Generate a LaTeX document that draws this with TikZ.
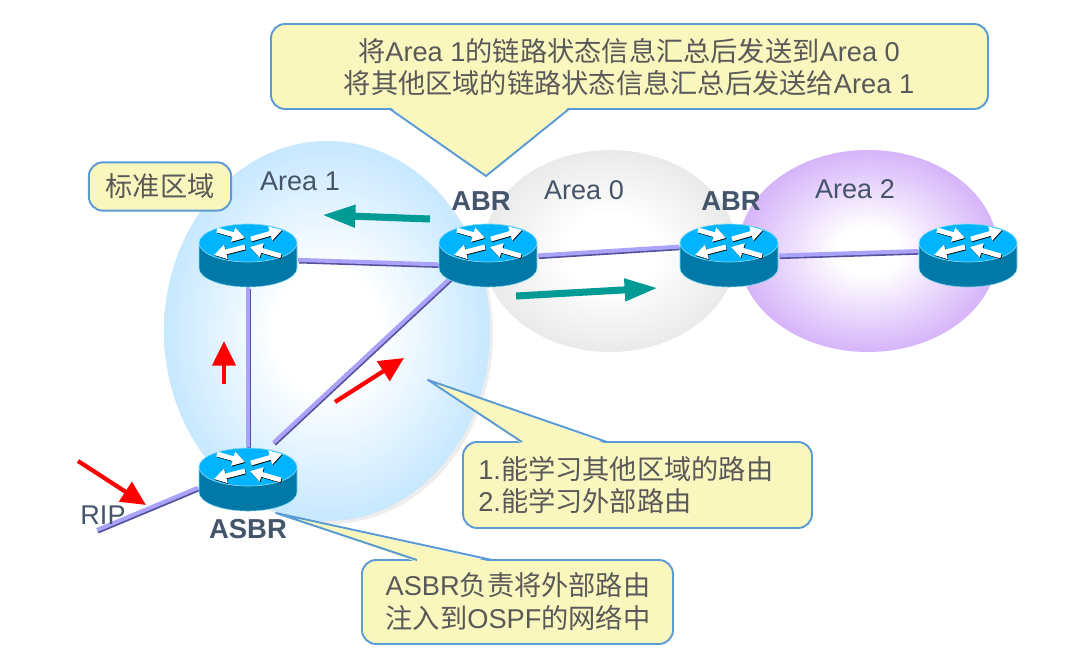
\documentclass[tikz,border=0pt]{standalone}
\usepackage{fontspec}
\usepackage{tikz}
\usetikzlibrary{arrows.meta}
\setmainfont{Liberation Sans}
\newfontfamily\cjkfont{Noto Sans CJK SC}
\newcommand{\zh}[1]{{\cjkfont #1}}
\definecolor{notefill}{HTML}{FAF7BE}
\definecolor{noteline}{HTML}{5B9BD5}
\definecolor{notetext}{HTML}{595959}
\definecolor{slatetext}{HTML}{44546A}
\definecolor{routertop}{HTML}{00B4FF}
\definecolor{routerside}{HTML}{0078A8}
\definecolor{routeredge}{HTML}{7FD8F0}
\definecolor{linklight}{HTML}{ABA3FA}
\definecolor{linkdark}{HTML}{55509A}
\definecolor{tealarrow}{HTML}{009B95}
\definecolor{area1edge}{HTML}{B3E0FF}
\definecolor{area0edge}{HTML}{DEDEDE}
\definecolor{area2edge}{HTML}{C99CF8}
\pgfdeclareradialshading{areaone}{\pgfpointorigin}{color(0bp)=(white); color(8bp)=(white); color(31bp)=(area1edge); color(50bp)=(area1edge)}
\pgfdeclareradialshading{areazero}{\pgfpointorigin}{color(0bp)=(white); color(9bp)=(white); color(34bp)=(area0edge); color(50bp)=(area0edge)}
\pgfdeclareradialshading{areatwo}{\pgfpointorigin}{color(0bp)=(white); color(6bp)=(white); color(31bp)=(area2edge); color(50bp)=(area2edge)}
\tikzset{
  notebox/.style={fill=notefill, draw=noteline, line width=1.1pt, rounded corners=8pt, line join=round},
  notelabel/.style={text=notetext, font=\fontsize{15.5}{18.7}\selectfont, inner sep=0pt},
  arealabel/.style={text=slatetext, font=\fontsize{15.4}{18}\selectfont, inner sep=0pt},
  rolelabel/.style={text=slatetext, font=\fontsize{15.6}{18}\selectfont\bfseries, inner sep=0pt},
  routerspot/.style={minimum width=56.7pt, minimum height=35.7pt, inner sep=0pt},
  linkline/.style={draw=linklight, line width=2.3pt,
    preaction={draw=linkdark, line width=2.5pt, transform canvas={xshift=0.4pt, yshift=-0.8pt}}},
  tealline/.style={draw=tealarrow, line width=4pt, -{Triangle[length=19pt, width=12pt]}},
  redline/.style={draw=red, line width=2.4pt, -{Triangle[length=14pt, width=13pt]}},
  router/.pic={
    \fill[routerside, draw=routeredge, line width=0.3pt] (-49,0) -- (-49,25)
      arc[start angle=180, end angle=0, x radius=49, y radius=19] -- (49,0) -- cycle;
    \fill[routertop, draw=routeredge, line width=0.4pt] (0,0) circle[x radius=49, y radius=19];
    \foreach \ax/\ay/\bx/\by in {-31/-13/-3/-5, 3/-4/34/-13, -3/4/-34/12, 33/13/2/4} {
      \draw[black, line width=2.8pt, -{Triangle[length=7pt, width=8pt]}] (\ax+0.6,\ay+0.8) -- (\bx+0.6,\by+0.8);
      \draw[white, line width=2.8pt, -{Triangle[length=7pt, width=8pt]}] (\ax,\ay) -- (\bx,\by);
    }
  }
}

\begin{document}
\begin{tikzpicture}[x=0.02cm, y=-0.02cm]
  \useasboundingbox (0,0) rectangle (1086,662);

  % areas
  \shade[shading=areazero] (610,251) circle[x radius=127, y radius=101];
  \shade[shading=areatwo] (868,251) circle[x radius=130, y radius=101];
  \fill[black!7] (330,334) circle[x radius=163, y radius=190];
  \shade[shading=areaone] (327,331) circle[x radius=163, y radius=190];

  \node[arealabel] (area1) at (300,181) {Area 1};
  \node[arealabel] (area0) at (584,190) {Area 0};
  \node[arealabel] (area2) at (855,189) {Area 2};

  % routers
  \node[routerspot] (r1) at (248,255.5) {};
  \node[routerspot] (r2) at (488,255.5) {};
  \node[routerspot] (r3) at (729,255.5) {};
  \node[routerspot] (r4) at (968,255.5) {};
  \node[routerspot] (r5) at (248,479) {};
  \coordinate (ripend) at (97,530);

  \foreach \a/\b in {r1.-5/r2.190, r2.east/r3.170, r3.east/r4.175, r1.south/r5.north, r5.190/ripend} {
    \draw[linkline] (\a) -- (\b);
  }
  \draw[linkline, shorten >=4pt] ([yshift=7.1pt]r2.center) -- (r5.57);

  \foreach \r in {r1,r2,r3,r4} {
    \pic at ([yshift=7.1pt]\r) {router};
  }
  \pic at ([yshift=6.8pt]r5) {router};

  \node[rolelabel] (abrleft) at (481,201) {ABR};
  \node[rolelabel] (abrright) at (731,201) {ABR};
  \node[rolelabel] (asbr) at (248,529) {ASBR};
  \node[arealabel] (rip) at (103,515) {RIP};

  % arrows
  \coordinate (ta) at (430,219);
  \coordinate (tb) at (322,215);
  \coordinate (tc) at (516,296);
  \coordinate (td) at (658,288);
  \draw[tealline] (ta) -- (tb);
  \draw[tealline] (tc) -- (td);

  \coordinate (ra) at (78,461);
  \coordinate (rb) at (146,505);
  \coordinate (rc) at (224,384);
  \coordinate (rd) at (224,341);
  \coordinate (re) at (335,402);
  \coordinate (rf) at (404,358);
  \draw[redline] (ra) -- (rb);
  \draw[redline] (rc) -- (rd);
  \draw[redline] (re) -- (rf);

  % notes
  \draw[notebox] (271,24) rectangle (988,109);
  \fill[notefill] (390,107) -- (486,176) -- (569,107) -- cycle;
  \draw[noteline, line width=1.1pt, line join=round] (390,109) -- (486,176) -- (569,109);
  \node[notelabel, align=center] (topnote) at (629,67)
    {\zh{将}Area 1\zh{的链路状态信息汇总后发送到}Area 0\\\zh{将其他区域的链路状态信息汇总后发送给}Area 1};

  \node[notebox, notelabel, minimum width=81pt, minimum height=27.5pt] (stdnote) at (160,186.5) {\zh{标准区域}};

  \draw[notebox] (463,442) rectangle (812,528);
  \fill[notefill] (522,444) -- (428,380) -- (607,444) -- cycle;
  \draw[noteline, line width=1.1pt, line join=round] (522,442) -- (428,380) -- (607,442);
  \node[notelabel, align=left, anchor=west] (learnnote) at (478,485)
    {1.\zh{能学习其他区域的路由}\\2.\zh{能学习外部路由}};

  \draw[notebox] (362,560) rectangle (673,644);
  \fill[notefill] (417,562) -- (276,513) -- (492,562) -- cycle;
  \draw[noteline, line width=1.1pt, line join=round] (417,560) -- (276,513) -- (492,560);
  \node[notelabel, align=center] (asbrnote) at (518,602)
    {ASBR\zh{负责将外部路由}\\\zh{注入到}OSPF\zh{的网络中}};
\end{tikzpicture}
\end{document}
